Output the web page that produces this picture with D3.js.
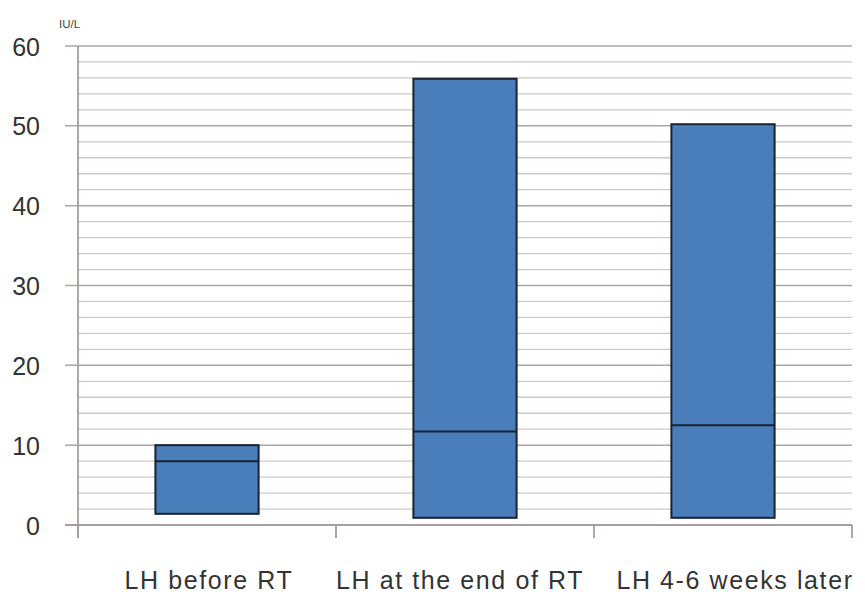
<!DOCTYPE html>
<html><head><meta charset="utf-8">
<script src="https://cdn.jsdelivr.net/npm/d3@7"></script>
<style>body{margin:0;background:#fff;}svg{display:block;}</style>
</head><body>
<script>
const categories = ["LH before RT", "LH at the end of RT", "LH 4-6 weeks later"];
const lowValues = [1.4, 0.9, 0.9];
const midValues = [8.0, 11.7, 12.5];
const highValues = [10.0, 55.9, 50.2];
const yTicks = [0, 10, 20, 30, 40, 50, 60];
const unitLabel = "IU/L";

const W = 865, H = 597;
const m = {left: 78, right: 13, top: 46, bottom: 72};
const svg = d3.select("body").append("svg").attr("width", W).attr("height", H);

const x = d3.scaleBand().domain(categories).range([m.left, W - m.right]).paddingInner(0).paddingOuter(0);
const y = d3.scaleLinear().domain([0, 60]).range([H - m.bottom, m.top]);

const g = svg.append("g");
const minor = d3.range(2, 60, 2).filter(v => v % 10 !== 0);
g.selectAll(".minor").data(minor).join("line")
  .attr("x1", m.left).attr("x2", W - m.right)
  .attr("y1", d => y(d)).attr("y2", d => y(d))
  .attr("stroke", "#d2c6c6").attr("stroke-width", 1.3);
g.selectAll(".major").data(yTicks.filter(v => v > 0)).join("line")
  .attr("x1", m.left - 13).attr("x2", W - m.right)
  .attr("y1", d => y(d)).attr("y2", d => y(d))
  .attr("stroke", "#b0a4a4").attr("stroke-width", 1.5);

svg.append("line").attr("x1", m.left - 13).attr("x2", W - m.right)
  .attr("y1", y(0)).attr("y2", y(0)).attr("stroke", "#a89c9c").attr("stroke-width", 1.8);
const bounds = categories.map(c => x(c)).concat([x(categories[categories.length-1]) + x.bandwidth()]);
svg.selectAll(".xt").data(bounds).join("line")
  .attr("x1", d => d).attr("x2", d => d)
  .attr("y1", y(0)).attr("y2", y(0) + 13)
  .attr("stroke", "#a89c9c").attr("stroke-width", 1.8);
svg.append("line").attr("x1", m.left).attr("x2", m.left)
  .attr("y1", y(60)).attr("y2", y(0) + 13).attr("stroke", "#a89c9c").attr("stroke-width", 1.8);

const yAxis = d3.axisLeft(y).tickValues(yTicks).tickSize(0).tickPadding(0);
const ya = svg.append("g").attr("transform", `translate(${m.left - 38},0)`).call(yAxis);
ya.select(".domain").remove();
ya.selectAll("text").attr("font-family", "Liberation Sans, Arial, sans-serif")
  .attr("font-size", 25).attr("fill", "#333").attr("dy", "0.36em");

svg.append("text").attr("x", 59).attr("y", 28).text(unitLabel)
  .attr("font-family", "Liberation Sans, Arial, sans-serif").attr("font-size", 11.5).attr("fill", "#444");

const bw = x.bandwidth() * 0.4;
const data = categories.map((c, i) => ({c, lo: lowValues[i], mid: midValues[i], hi: highValues[i]}));
const bars = svg.append("g");
bars.selectAll("rect").data(data).join("rect")
  .attr("x", d => x(d.c) + x.bandwidth() / 2 - bw / 2)
  .attr("width", bw)
  .attr("y", d => y(d.hi))
  .attr("height", d => y(d.lo) - y(d.hi))
  .attr("fill", "#4a7ebb").attr("stroke", "#1a2230").attr("stroke-width", 2);
bars.selectAll(".mid").data(data).join("line")
  .attr("x1", d => x(d.c) + x.bandwidth() / 2 - bw / 2)
  .attr("x2", d => x(d.c) + x.bandwidth() / 2 + bw / 2)
  .attr("y1", d => y(d.mid)).attr("y2", d => y(d.mid))
  .attr("stroke", "#1a2230").attr("stroke-width", 2);

const labelShift = [2, -5, 12];
svg.selectAll(".cl").data(categories).join("text")
  .attr("x", (d, i) => x(d) + x.bandwidth() / 2 + labelShift[i])
  .attr("y", 589)
  .attr("text-anchor", "middle")
  .attr("font-family", "Liberation Sans, Arial, sans-serif")
  .attr("font-size", 25).attr("letter-spacing", 1.6).attr("fill", "#333")
  .text(d => d);
</script>
</body></html>
